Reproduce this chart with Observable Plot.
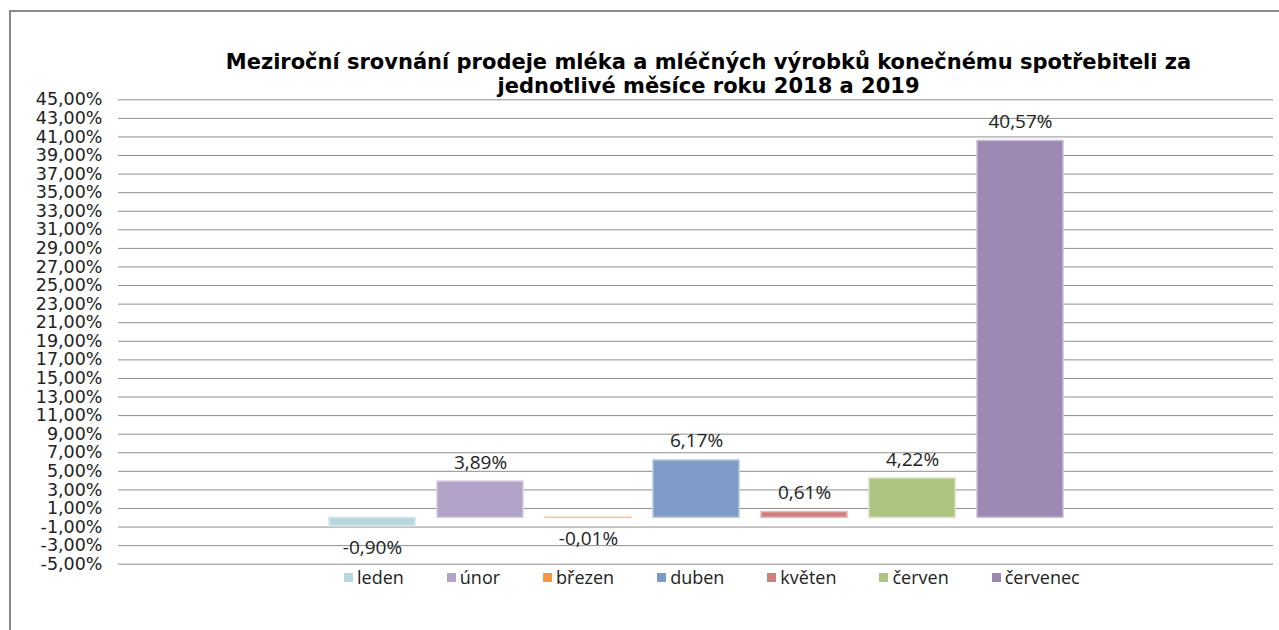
<!DOCTYPE html>
<html>
<head>
<meta charset="utf-8">
<script src="https://cdn.jsdelivr.net/npm/d3@7"></script>
<script src="https://cdn.jsdelivr.net/npm/@observablehq/plot@0.6"></script>
<style>
  html, body { margin: 0; padding: 0; background: #fff; }
  #wrap { position: relative; width: 1279px; height: 630px; overflow: hidden; background: #fff; }
  .bt { position: absolute; left: 9px; top: 10px; width: 1270px; height: 2px; background: #8a8a8a; }
  .bl { position: absolute; left: 9px; top: 10px; width: 2px; height: 620px; background: #8a8a8a; }
  #title { position: absolute; left: 138px; right: 0; top: 50px; text-align: center;
           font-family: "DejaVu Sans", Verdana, sans-serif; font-weight: bold; font-size: 21px;
           line-height: 24px; color: #000; }
  #chart { position: absolute; left: 0; top: 90px; }
  #legend { position: absolute; left: 344px; top: 565px; display: flex; align-items: center;
            font-family: "Open Sans", sans-serif; font-size: 18px; color: #222; white-space: nowrap; }
  #legend .item { display: flex; align-items: center; margin-right: 43px; }
  #legend .sw { width: 9px; height: 9px; margin-right: 4px; }
</style>
</head>
<body>
<div id="wrap">
  <div class="bt"></div>
  <div class="bl"></div>
  <div id="title">Meziroční srovnání prodeje mléka a mléčných výrobků konečnému spotřebiteli za<br>jednotlivé měsíce roku 2018 a 2019</div>
  <div id="chart"></div>
  <div id="legend"></div>
</div>
<script>
const months = ["leden", "únor", "březen", "duben", "květen", "červen", "červenec"];
const values = [-0.90, 3.89, -0.01, 6.17, 0.61, 4.22, 40.57];
const colors = ["#B7D7E0", "#B3A2C7", "#F79646", "#7E9BC8", "#D07E7E", "#AEC581", "#9B89B3"];
const yTicks = [-5, -3, -1, 1, 3, 5, 7, 9, 11, 13, 15, 17, 19, 21, 23, 25, 27, 29, 31, 33, 35, 37, 39, 41, 43, 45];

const fmt = v => v.toFixed(2).replace(".", ",") + "%";
const data = months.map((m, i) => ({month: m, value: values[i], color: colors[i],
  edge: d3.interpolateRgb(colors[i], "#ffffff")(0.45)}));

const chart = Plot.plot({
  width: 1279,
  height: 490,
  marginTop: 9.3,
  marginBottom: 16.3,
  marginLeft: 118,
  marginRight: 6,
  x: {type: "band", domain: months, range: [327, 1065], paddingInner: 0.2, paddingOuter: 0, axis: null},
  y: {domain: [-5, 45], ticks: yTicks, tickFormat: fmt, tickSize: 0, tickPadding: 16, label: null},
  style: {fontFamily: "DejaVu Sans, Verdana, sans-serif", fontSize: "17.5px", color: "#222", background: "transparent"},
  marks: [
    Plot.ruleY(yTicks, {stroke: "#8f8f8f", strokeWidth: 1}),
    Plot.barY(data, {x: "month", y: "value", fill: "color", stroke: "edge", strokeWidth: 1.5}),
    Plot.text(data.filter(d => d.value >= 0), {x: "month", y: "value", text: d => fmt(d.value),
      lineAnchor: "bottom", dy: -13, fontFamily: "Open Sans, sans-serif", fontSize: 19, fill: "#222"}),
    Plot.text(data.filter(d => d.value < 0), {x: "month", y: "value", text: d => fmt(d.value),
      lineAnchor: "top", dy: 14, fontFamily: "Open Sans, sans-serif", fontSize: 19, fill: "#222"})
  ]
});
document.getElementById("chart").appendChild(chart);

const legend = document.getElementById("legend");
months.forEach((m, i) => {
  const it = document.createElement("div");
  it.className = "item";
  const sw = document.createElement("span");
  sw.className = "sw";
  sw.style.background = colors[i];
  const tx = document.createElement("span");
  tx.textContent = m;
  it.appendChild(sw);
  it.appendChild(tx);
  legend.appendChild(it);
});
</script>
</body>
</html>
